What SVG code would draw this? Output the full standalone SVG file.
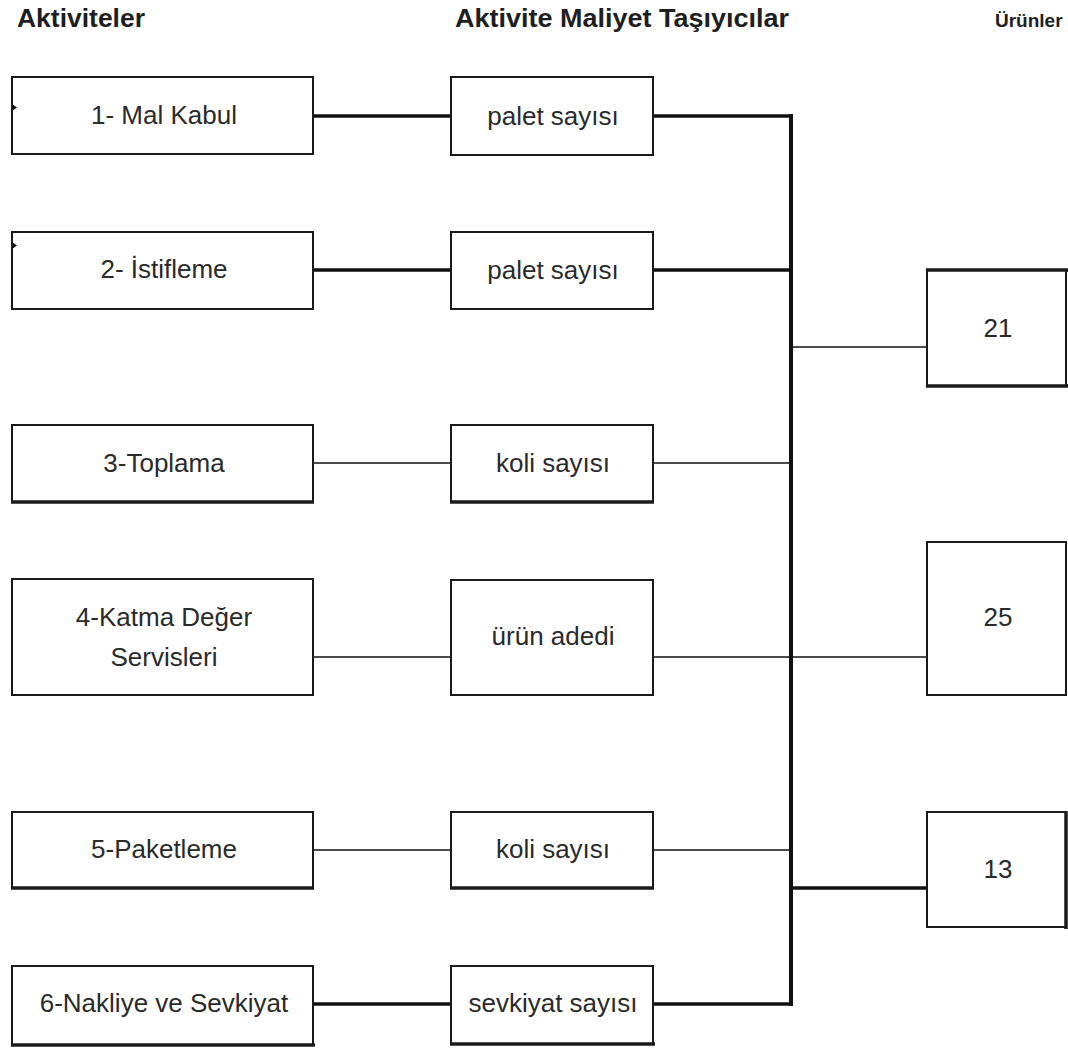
<svg xmlns="http://www.w3.org/2000/svg" width="1068" height="1052" viewBox="0 0 1068 1052">
  <style>
    .box { fill: #ffffff; stroke: #1a1a1a; stroke-width: 2; }
    .edge { stroke: #1a1a1a; stroke-width: 3.5; fill: none; }
    .lbl { font-family: "Liberation Sans", Arial, sans-serif; font-size: 26px; fill: #2a2a2a; text-anchor: middle; }
    .head { font-family: "Liberation Sans", Arial, sans-serif; font-size: 26px; font-weight: bold; fill: #1e1e1e; }
    .thick { stroke: #111111; stroke-width: 3.5; fill: none; }
    .thin { stroke: #111111; stroke-width: 1.6; fill: none; }
    .bus { stroke: #111111; stroke-width: 4; fill: none; }
    .tick { fill: #111111; }
  </style>
  <rect width="1068" height="1052" fill="#ffffff"/>

  <!-- column headings -->
  <g id="headings">
    <text class="head" x="17" y="27" textLength="128" lengthAdjust="spacingAndGlyphs">Aktiviteler</text>
    <text class="head" x="455" y="27" textLength="334" lengthAdjust="spacingAndGlyphs">Aktivite Maliyet Taşıyıcılar</text>
    <text class="head" x="995" y="27" style="font-size:19px">Ürünler</text>
  </g>

  <!-- connectors -->
  <g id="connectors">
    <!-- activity to cost driver -->
    <line class="thick" x1="313" y1="116" x2="451" y2="116"/>
    <line class="thick" x1="313" y1="270" x2="451" y2="270"/>
    <line class="thin" x1="313" y1="463" x2="451" y2="463"/>
    <line class="thin" x1="313" y1="657" x2="451" y2="657"/>
    <line class="thin" x1="313" y1="850" x2="451" y2="850"/>
    <line class="thick" x1="313" y1="1004" x2="451" y2="1004"/>
    <!-- cost driver to bus -->
    <line class="thick" x1="653" y1="116" x2="791" y2="116"/>
    <line class="thick" x1="653" y1="270" x2="791" y2="270"/>
    <line class="thin" x1="653" y1="463" x2="791" y2="463"/>
    <line class="thin" x1="653" y1="657" x2="927" y2="657"/>
    <line class="thin" x1="653" y1="850" x2="791" y2="850"/>
    <line class="thick" x1="653" y1="1004" x2="791" y2="1004"/>
    <!-- collecting bus -->
    <line class="bus" x1="791" y1="114" x2="791" y2="1006"/>
    <!-- bus to products -->
    <line class="thin" x1="791" y1="347" x2="927" y2="347"/>
    <line class="thick" x1="791" y1="888" x2="927" y2="888"/>
  </g>

  <!-- activities -->
  <g id="act-1">
    <rect class="box" x="12" y="77" width="301" height="77"/>
    <polygon class="tick" points="12,104 17,107.5 12,111"/>
    <text class="lbl" x="164" y="124">1- Mal Kabul</text>
  </g>
  <g id="act-2">
    <rect class="box" x="12" y="232" width="301" height="77"/>
    <polygon class="tick" points="12,242 17,245.5 12,249"/>
    <text class="lbl" x="164" y="278">2- İstifleme</text>
  </g>
  <g id="act-3">
    <rect class="box" x="12" y="425" width="301" height="77"/>
    <line class="edge" x1="11" y1="502" x2="314" y2="502"/>
    <text class="lbl" x="164" y="472">3-Toplama</text>
  </g>
  <g id="act-4">
    <rect class="box" x="12" y="579" width="301" height="116"/>
    <text class="lbl" x="164" y="626">4-Katma Değer</text>
    <text class="lbl" x="164" y="666">Servisleri</text>
  </g>
  <g id="act-5">
    <rect class="box" x="12" y="812" width="301" height="76"/>
    <line class="edge" x1="11" y1="888" x2="314" y2="888"/>
    <text class="lbl" x="164" y="858">5-Paketleme</text>
  </g>
  <g id="act-6">
    <rect class="box" x="12" y="966" width="301" height="79"/>
    <line class="edge" x1="11" y1="1045" x2="315" y2="1045"/>
    <text class="lbl" x="164" y="1012">6-Nakliye ve Sevkiyat</text>
  </g>

  <!-- cost drivers -->
  <g id="drv-1">
    <rect class="box" x="451" y="77" width="202" height="78"/>
    <text class="lbl" x="553" y="125">palet sayısı</text>
  </g>
  <g id="drv-2">
    <rect class="box" x="451" y="232" width="202" height="77"/>
    <text class="lbl" x="553" y="279">palet sayısı</text>
  </g>
  <g id="drv-3">
    <rect class="box" x="451" y="425" width="202" height="77"/>
    <line class="edge" x1="450" y1="502" x2="654" y2="502"/>
    <text class="lbl" x="553" y="472">koli sayısı</text>
  </g>
  <g id="drv-4">
    <rect class="box" x="451" y="580" width="202" height="115"/>
    <text class="lbl" x="553" y="645">ürün adedi</text>
  </g>
  <g id="drv-5">
    <rect class="box" x="451" y="812" width="202" height="76"/>
    <line class="edge" x1="450" y1="888" x2="654" y2="888"/>
    <text class="lbl" x="553" y="858">koli sayısı</text>
  </g>
  <g id="drv-6">
    <rect class="box" x="451" y="966" width="202" height="78"/>
    <line class="edge" x1="450" y1="1044" x2="655" y2="1044"/>
    <text class="lbl" x="553" y="1012">sevkiyat sayısı</text>
  </g>

  <!-- products -->
  <g id="prod-21">
    <rect class="box" x="927" y="270" width="139" height="116"/>
    <line class="edge" x1="926" y1="270" x2="1068" y2="270"/>
    <line class="edge" x1="926" y1="386" x2="1068" y2="386"/>
    <text class="lbl" x="998" y="337">21</text>
  </g>
  <g id="prod-25">
    <rect class="box" x="927" y="542" width="139" height="153"/>
    <text class="lbl" x="998" y="626">25</text>
  </g>
  <g id="prod-13">
    <rect class="box" x="927" y="812" width="139" height="115"/>
    <line class="edge" x1="1066" y1="811" x2="1066" y2="929"/>
    <text class="lbl" x="998" y="878">13</text>
  </g>
</svg>
